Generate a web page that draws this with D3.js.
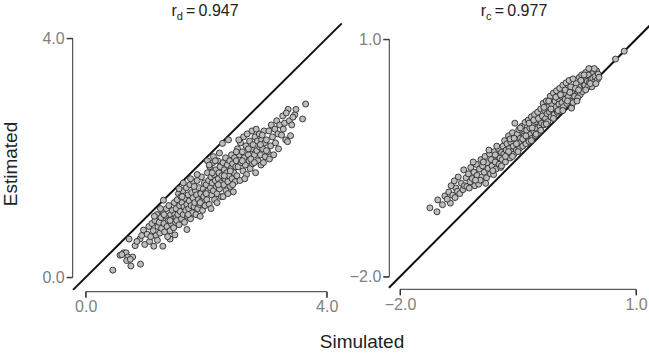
<!DOCTYPE html>
<html><head><meta charset="utf-8">
<script src="https://cdn.jsdelivr.net/npm/d3@7"></script>
<style>
body{margin:0;background:#fff;}
svg{display:block;font-family:"Liberation Sans",Arial,sans-serif;}
</style></head><body>
<svg id="c" width="649" height="356"></svg>
<script>
// Panel titles and axis tick labels
const titles = [{base:"r", sub:"d", value:"0.947"}, {base:"r", sub:"c", value:"0.977"}];
const leftTicks = [0.0, 4.0];
const rightTicks = [-2.0, 1.0];
const xTitle = "Simulated";
const yTitle = "Estimated";

// Left panel: [simulated, estimated] (d)
const leftPoints = [
[0.45,0.12],[0.57,0.37],[0.63,0.41],[0.67,0.41],[0.70,0.34],[0.78,0.34],[0.75,0.19],[0.68,0.28],[0.91,0.22],[0.72,0.64],[0.82,0.53],[0.90,0.64],[0.96,0.79],[0.60,0.38],[0.74,0.30],[0.85,0.60],[0.98,0.55],[0.93,0.70],
[1.06,0.60],[1.13,0.52],[1.28,0.52],[1.40,0.64],[1.48,0.71],[1.29,1.29],[1.02,0.72],[1.05,0.85],[1.08,0.68],[1.10,0.90],[1.12,0.78],[1.15,0.95],[1.17,0.70],[1.18,1.05],[1.20,0.85],[1.22,0.92],[1.23,0.74],[1.25,1.00],[1.26,0.82],[1.28,1.10],[1.30,0.90],[1.31,0.76],[1.33,1.02],[1.34,1.15],[1.35,0.85],[1.37,0.95],[1.38,1.20],[1.40,0.78],[1.41,1.05],[1.42,0.90],[1.44,1.12],[1.45,0.98],[1.46,0.83],[1.47,1.25],[1.48,1.05],[1.49,0.92],[1.19,0.62],[1.36,0.68],[1.14,1.02],[1.24,1.15],[1.30,1.05],[1.40,0.95],[1.50,1.00],
[1.50,1.15],[1.51,0.95],[1.52,1.30],[1.53,1.05],[1.54,1.40],[1.55,0.88],[1.56,1.20],[1.57,1.10],[1.58,1.35],[1.59,0.98],[1.60,1.25],[1.61,1.45],[1.62,1.05],[1.63,1.18],[1.64,0.92],[1.65,1.32],[1.66,1.12],[1.67,1.50],[1.68,1.22],[1.68,0.80],[1.69,1.02],[1.70,1.38],[1.71,1.15],[1.72,1.28],[1.73,1.55],[1.74,0.98],[1.75,1.20],[1.76,1.42],[1.77,1.08],[1.78,1.33],[1.79,1.60],[1.80,1.18],[1.81,1.25],[1.82,1.45],[1.83,1.05],[1.84,1.38],[1.85,1.62],[1.86,1.15],[1.87,1.30],[1.88,1.50],[1.89,1.22],[1.90,1.02],[1.91,1.40],[1.92,1.68],[1.93,1.28],[1.94,1.12],[1.95,1.48],[1.96,1.35],[1.97,1.58],[1.98,1.20],[1.99,1.42],[1.55,1.48],[1.62,1.58],[1.74,1.65],[1.85,1.72],[1.60,1.35],[1.70,1.05],[1.80,1.52],[1.90,1.25],
[2.00,1.55],[2.01,1.30],[2.02,1.75],[2.03,1.45],[2.04,1.62],[2.05,1.22],[2.06,1.85],[2.07,1.50],[2.08,1.68],[2.09,1.38],[2.10,1.58],[2.11,1.92],[2.12,1.45],[2.13,1.72],[2.14,1.30],[2.15,1.62],[2.16,1.80],[2.17,1.52],[2.18,1.40],[2.19,1.95],[2.20,1.65],[2.21,1.75],[2.22,1.48],[2.23,1.85],[2.24,1.58],[2.25,1.35],[2.26,1.70],[2.27,2.24],[2.28,1.92],[2.29,1.55],[2.30,1.80],[2.31,1.65],[2.32,2.00],[2.33,1.45],[2.34,1.75],[2.35,1.88],[2.36,1.60],[2.37,2.30],[2.38,1.70],[2.39,1.95],[2.40,1.52],[2.41,1.82],[2.42,2.05],[2.43,1.65],[2.44,1.90],[2.45,1.43],[2.46,1.75],[2.47,2.00],[2.48,1.60],[2.49,1.85],[2.02,1.95],[2.12,2.02],[2.22,2.08],[2.08,1.15],[2.18,1.25],[2.28,1.35],[2.36,1.40],[2.44,1.55],[2.05,1.88],[2.15,1.95],[2.00,1.40],[2.10,1.75],[2.20,1.55],[2.30,1.70],[2.40,1.78],
[2.50,1.95],[2.51,1.70],[2.52,2.15],[2.53,1.85],[2.55,2.05],[2.56,1.62],[2.57,2.25],[2.58,1.92],[2.60,2.10],[2.61,1.78],[2.62,2.35],[2.63,2.00],[2.65,1.88],[2.66,2.20],[2.67,1.72],[2.68,2.40],[2.70,2.05],[2.71,1.95],[2.72,2.28],[2.73,1.82],[2.75,2.15],[2.76,2.45],[2.77,1.90],[2.78,2.22],[2.80,2.05],[2.81,2.35],[2.82,1.75],[2.84,2.12],[2.85,2.28],[2.86,1.95],[2.88,2.40],[2.89,2.18],[2.90,2.05],[2.91,1.88],[2.92,2.30],[2.94,2.15],[2.95,1.92],[2.96,2.45],[2.97,2.25],[2.98,2.02],[2.54,2.30],[2.64,1.65],[2.74,1.98],[2.83,2.48],[2.93,2.38],[2.50,2.10],[2.60,1.95],[2.70,2.15],[2.80,1.92],[2.90,2.22],
[3.00,2.30],[3.02,2.10],[3.04,2.45],[3.05,1.98],[3.07,2.20],[3.08,2.55],[3.10,2.35],[3.12,2.05],[3.14,2.48],[3.15,2.25],[3.17,2.62],[3.19,2.40],[3.20,2.15],[3.22,2.55],[3.25,2.38],[3.27,2.70],[3.28,2.48],[3.30,2.58],[3.32,2.30],[3.35,2.27],[3.36,2.81],[3.38,2.62],[3.40,2.37],[3.42,2.55],[3.47,2.72],[3.49,2.81],[3.60,2.65],[3.65,2.90],[3.33,2.75],[3.44,2.68],[3.00,2.12]
];

// Right panel: [simulated, estimated] (c)
const rightPoints = [
[-1.62,-1.13],[-1.53,-1.18],[-1.52,-1.03],[-1.46,-1.09],[-1.36,-1.07],[-1.26,-0.74],[-1.43,-0.98],[-1.40,-1.02],[-1.38,-0.93],[-1.33,-0.97],[-1.30,-1.00],[-1.29,-0.88],[-1.27,-0.92],[-1.24,-0.95],[-1.22,-0.82],[-1.35,-0.85],[-1.20,-0.90],[-1.31,-0.79],
[-1.19,-0.65],[-1.18,-0.85],[-1.16,-0.75],[-1.15,-0.86],[-1.13,-0.70],[-1.11,-0.80],[-1.10,-0.62],[-1.08,-0.76],[-1.06,-0.68],[-1.05,-0.85],[-1.03,-0.58],[-1.02,-0.72],[-1.00,-0.83],[-0.99,-0.64],[-0.97,-0.52],[-0.96,-0.74],[-0.95,-0.60],[-0.93,-0.68],[-0.92,-0.48],[-0.90,-0.75],[-0.89,-0.56],[-0.88,-0.63],[-0.86,-0.45],[-0.85,-0.70],[-0.84,-0.52],[-0.83,-0.60],[-0.81,-0.71],[-0.80,-0.42],[-0.79,-0.55],[-0.78,-0.64],[-0.76,-0.48],[-0.75,-0.38],[-0.74,-0.58],[-0.73,-0.50],[-0.72,-0.62],[-0.71,-0.43],[-0.98,-0.78],[-0.87,-0.40],[-1.07,-0.55],[-0.77,-0.35],
[-1.12,-0.88],[-1.04,-0.78],[-0.94,-0.55],[-0.91,-0.82],[-0.82,-0.66],[-0.79,-0.46],[-0.71,-0.60],
[-0.70,-0.52],[-0.69,-0.35],[-0.68,-0.45],[-0.67,-0.28],[-0.66,-0.55],[-0.65,-0.40],[-0.64,-0.32],[-0.63,-0.48],[-0.62,-0.22],[-0.61,-0.38],[-0.60,-0.50],[-0.59,-0.30],[-0.58,-0.42],[-0.57,-0.18],[-0.56,-0.35],[-0.55,-0.45],[-0.54,-0.06],[-0.53,-0.27],[-0.52,-0.40],[-0.51,-0.20],[-0.50,-0.33],[-0.49,-0.14],[-0.48,-0.38],[-0.47,-0.25],[-0.46,-0.30],[-0.45,-0.10],[-0.44,-0.35],[-0.43,-0.20],[-0.42,-0.28],[-0.41,-0.05],[-0.40,-0.32],[-0.39,-0.15],[-0.38,-0.24],[-0.37,-0.02],[-0.36,-0.29],[-0.35,-0.12],[-0.34,-0.20],[-0.33,0.02],[-0.32,-0.25],[-0.31,-0.08],[-0.30,-0.16],[-0.29,0.05],[-0.28,-0.22],[-0.27,-0.04],[-0.26,-0.13],[-0.25,0.08],[-0.24,-0.18],[-0.23,-0.02],[-0.22,-0.10],[-0.21,0.12],[-0.20,-0.06],[-0.62,-0.42],[-0.52,-0.32],[-0.42,-0.22],[-0.32,-0.12],
[-0.66,-0.48],[-0.60,-0.26],[-0.57,-0.48],[-0.55,-0.25],[-0.50,-0.42],[-0.47,-0.12],[-0.44,-0.26],[-0.40,-0.22],[-0.36,-0.06],[-0.33,-0.28],[-0.30,-0.02],[-0.27,-0.20],[-0.24,0.00],[-0.21,-0.15],
[-0.19,0.03],[-0.18,0.19],[-0.17,-0.08],[-0.16,0.10],[-0.15,0.00],[-0.14,0.22],[-0.13,0.06],[-0.12,-0.04],[-0.11,0.15],[-0.10,0.08],[-0.09,0.28],[-0.08,0.02],[-0.07,0.18],[-0.06,0.10],[-0.05,0.32],[-0.04,0.05],[-0.03,0.22],[-0.02,0.14],[-0.01,0.35],[0.00,0.08],[0.01,0.25],[0.02,0.18],[0.03,0.38],[0.04,0.12],[0.05,0.28],[0.06,0.20],[0.07,0.42],[0.08,0.15],[0.09,0.32],[0.10,0.24],[0.11,0.45],[0.12,0.19],[0.13,0.36],[0.14,0.28],[0.15,0.48],[0.16,0.22],[0.17,0.40],[0.18,0.14],[0.19,0.32],[0.20,0.50],[0.22,0.28],[0.24,0.44],[0.26,0.34],[0.28,0.52],[0.29,0.30],
[-0.17,0.14],[-0.14,-0.07],[-0.11,0.22],[-0.08,0.12],[-0.05,0.00],[-0.02,0.27],[0.01,0.10],[0.04,0.30],[0.07,0.10],[0.10,0.36],[0.13,0.22],[0.16,0.33],[0.20,0.20],[0.23,0.38],[0.26,0.26],
[0.30,0.40],[0.31,0.55],[0.32,0.34],[0.33,0.48],[0.34,0.42],[0.35,0.42],[0.36,0.58],[0.37,0.49],[0.38,0.47],[0.39,0.40],[0.40,0.55],[0.41,0.46],[0.42,0.62],[0.43,0.50],[0.44,0.40],[0.45,0.51],[0.46,0.58],[0.47,0.46],[0.48,0.53],[0.50,0.60],[0.51,0.49],[0.52,0.56],[0.47,0.63],[0.40,0.63],[0.34,0.55],[0.74,0.75],[0.85,0.85],[0.27,0.36],[0.18,0.13],[0.25,0.22],
[0.30,0.48],[0.36,0.36],[0.42,0.44],[0.49,0.44],[0.53,0.52]
];

const svg = d3.select("#c");
const axisColor = "#333";
const tickColor = "#808080";

function panel(cfg) {
  const g = svg.append("g");
  const x = d3.scaleLinear().domain(cfg.ticks).range(cfg.xRange);
  const y = d3.scaleLinear().domain(cfg.ticks).range(cfg.yRange);

  // diagonal y = x
  g.append("line")
    .attr("x1", x(cfg.diag[0])).attr("y1", y(cfg.diag[0]))
    .attr("x2", x(cfg.diag[1])).attr("y2", y(cfg.diag[1]))
    .attr("stroke", "#111").attr("stroke-width", 2);

  // x axis
  const xa = g.append("g").attr("transform", `translate(0,${cfg.xAxisY})`)
    .call(d3.axisBottom(x).tickValues(cfg.ticks).tickFormat(d3.format(".1f")).tickSize(6).tickPadding(3).tickSizeOuter(0));
  // y axis
  const ya = g.append("g").attr("transform", `translate(${cfg.yAxisX},0)`)
    .call(d3.axisLeft(y).tickValues(cfg.ticks).tickFormat(d3.format(".1f")).tickSize(6).tickPadding(2).tickSizeOuter(0));
  [xa, ya].forEach(a => {
    a.select(".domain").attr("stroke", axisColor).attr("stroke-width", 1);
    a.selectAll(".tick line").attr("stroke", axisColor).attr("stroke-width", 1);
    a.selectAll(".tick text").attr("fill", tickColor).attr("font-size", 16)
      .attr("font-family", "Liberation Sans, Arial, sans-serif");
  });
  xa.select(".domain").attr("d", `M${x(cfg.ticks[0])},6V0H${x(cfg.ticks[1])}V6`);
  ya.select(".domain").attr("d", `M-6,${y(cfg.ticks[1])}H0V${y(cfg.ticks[0])}H-6`);

  // points
  g.selectAll("circle").data(cfg.points).join("circle")
    .attr("cx", d => x(d[0])).attr("cy", d => y(d[1])).attr("r", 3)
    .attr("fill", "#bdbdbd").attr("stroke", "#2a2a2a").attr("stroke-width", 0.9);

  // title
  const t = g.append("text").attr("x", cfg.titleX).attr("y", 16)
    .attr("text-anchor", "middle").attr("font-size", 16).attr("fill", "#222");
  t.append("tspan").text(cfg.title.base);
  t.append("tspan").attr("font-size", 11).attr("dy", 4).text(cfg.title.sub);
  t.append("tspan").attr("dy", -4).text("\u2009=\u2009" + cfg.title.value);
}

panel({ticks: leftTicks, xRange: [85.7, 326.7], yRange: [277.3, 38.3],
  xAxisY: 291.7, yAxisX: 72.7, diag: [-0.21, 4.25], points: leftPoints,
  title: titles[0], titleX: 205});
panel({ticks: rightTicks, xRange: [400, 636], yRange: [276.7, 39.3],
  xAxisY: 289.3, yAxisX: 389.3, diag: [-2.14, 1.2], points: rightPoints,
  title: titles[1], titleX: 514});

svg.append("text").attr("x", 362).attr("y", 348).attr("text-anchor", "middle")
  .attr("font-size", 19).attr("fill", "#222").text(xTitle);
svg.append("text").attr("transform", "translate(17,164) rotate(-90)")
  .attr("text-anchor", "middle").attr("font-size", 19).attr("fill", "#222").text(yTitle);
</script></body></html>
